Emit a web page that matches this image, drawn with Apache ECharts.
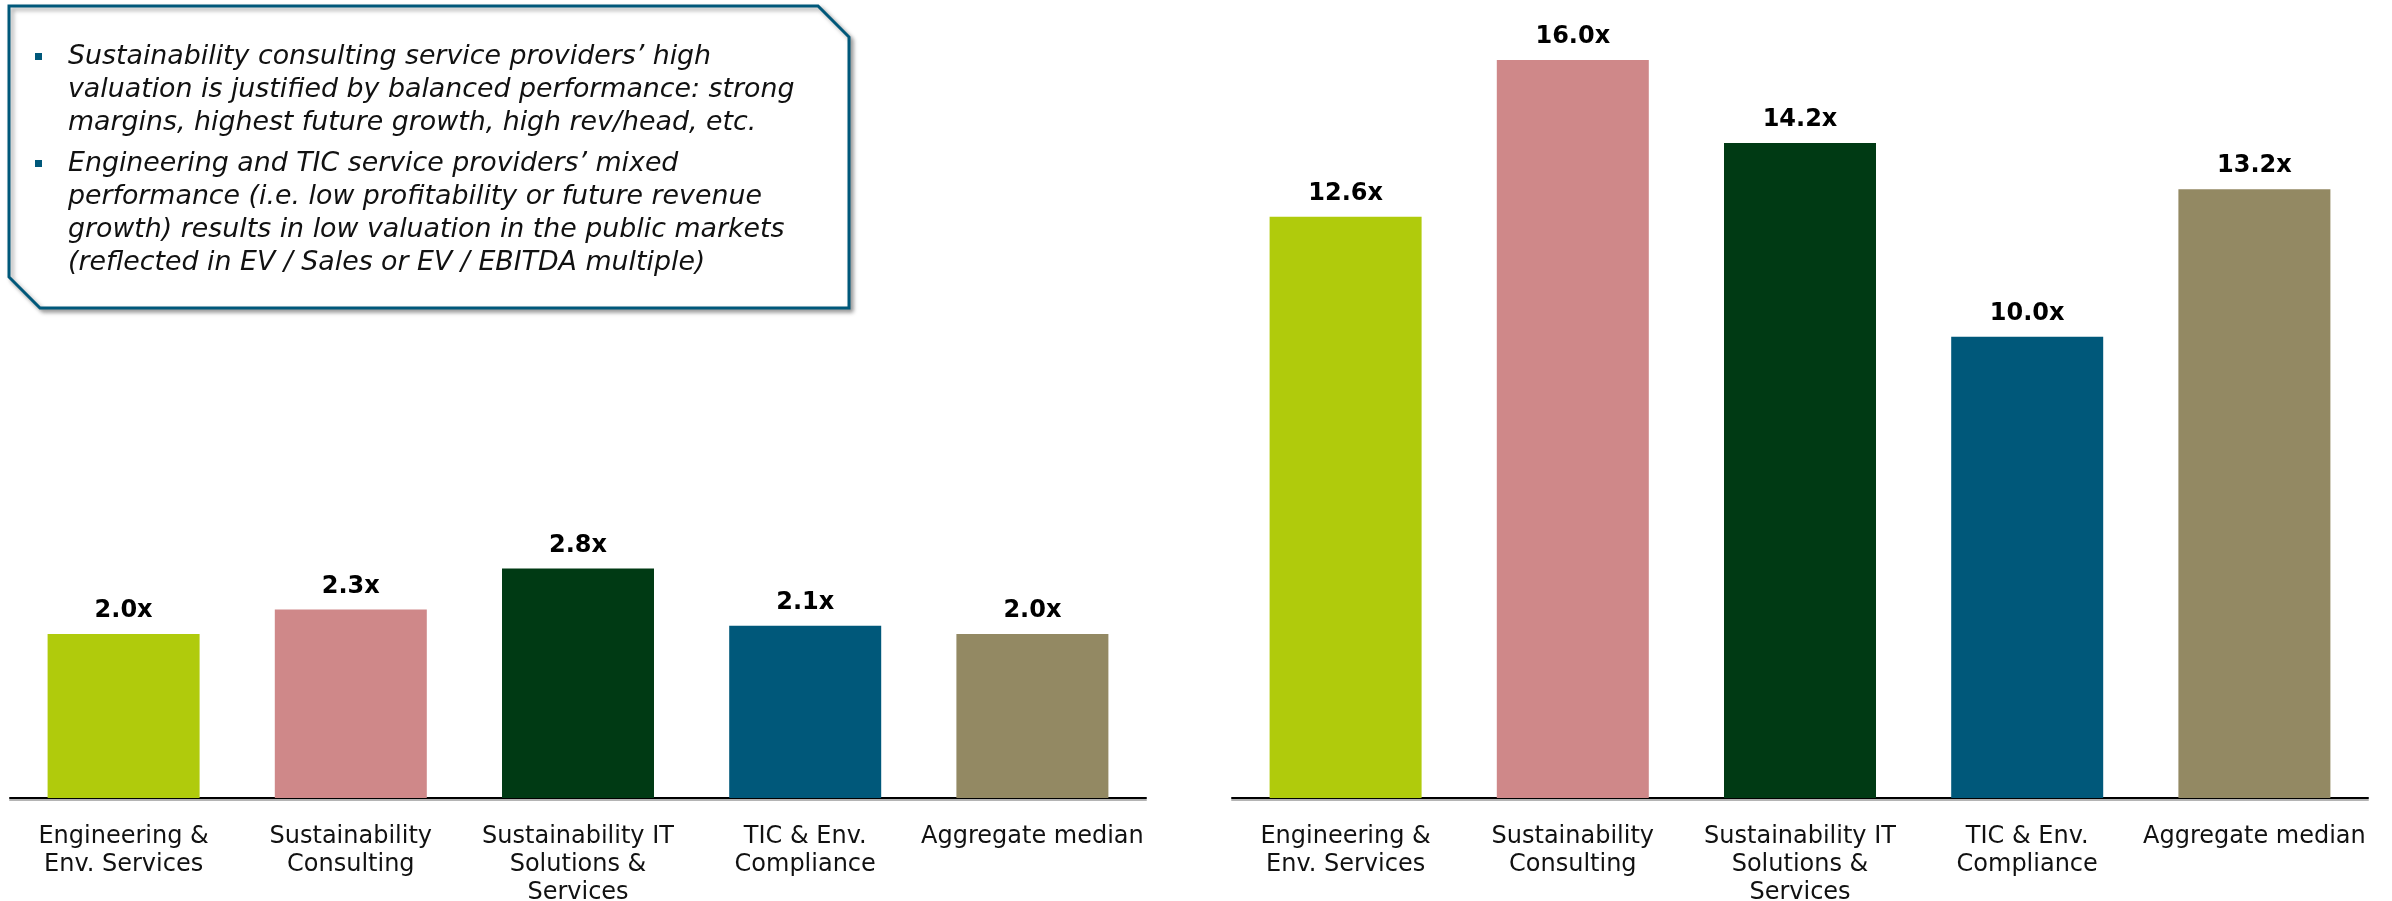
<!DOCTYPE html>
<html>
<head>
<meta charset="utf-8">
<script src="https://cdn.jsdelivr.net/npm/echarts@6/dist/echarts.min.js"></script>
<style>
html,body{margin:0;padding:0;background:#fff;}
#chart{width:2392px;height:901px;}
</style>
</head>
<body>
<div id="chart"></div>
<script>
// ---- data ----
const categories = [
  'Engineering &\nEnv. Services',
  'Sustainability\nConsulting',
  'Sustainability IT\nSolutions &\nServices',
  'TIC & Env.\nCompliance',
  'Aggregate median'
];
const evSalesValues = [2.0, 2.3, 2.8, 2.1, 2.0];
const evEbitdaValues = [12.6, 16.0, 14.2, 10.0, 13.2];
const barColors = ['#b0cb0c', '#cf8889', '#003a14', '#00587a', '#938963'];
const calloutParagraphs = [
  'Sustainability consulting service providers\u2019 high\nvaluation is justified by balanced performance: strong\nmargins, highest future growth, high rev/head, etc.',
  'Engineering and TIC service providers\u2019 mixed\nperformance (i.e. low profitability or future revenue\ngrowth) results in low valuation in the public markets\n(reflected in EV / Sales or EV / EBITDA multiple)'
];

const FONT = '"DejaVu Sans", Verdana, sans-serif';

function toData(vals) {
  return vals.map((v, i) => ({ value: v, itemStyle: { color: barColors[i] } }));
}

function xAxis(gridIndex) {
  return {
    type: 'category', gridIndex: gridIndex, data: categories,
    axisTick: { show: false },
    axisLine: { lineStyle: { color: '#000', width: 2, shadowColor: '#b4b4b4', shadowOffsetY: 2 } },
    axisLabel: { interval: 0, color: '#111', fontFamily: FONT, fontSize: 24, lineHeight: 28, margin: 25 }
  };
}
function yAxis(gridIndex, max) {
  return { type: 'value', gridIndex: gridIndex, min: 0, max: max, show: false, splitLine: { show: false } };
}
function barSeries(idx, vals) {
  return {
    type: 'bar', xAxisIndex: idx, yAxisIndex: idx, data: toData(vals), barWidth: 152,
    label: {
      show: true, position: 'top', distance: 10, color: '#000', fontFamily: FONT,
      fontWeight: 'bold', fontSize: 24, lineHeight: 26,
      formatter: p => p.value.toFixed(1) + 'x'
    }
  };
}

const graphics = [
  {
    type: 'polygon', z: 10,
    shape: { points: [[9, 6], [818, 6], [849, 37], [849, 308], [40, 308], [9, 277]] },
    style: { fill: '#fff', stroke: '#00587a', lineWidth: 3, shadowBlur: 4, shadowOffsetX: 3, shadowOffsetY: 3, shadowColor: 'rgba(0,0,0,0.35)' }
  }
];
const paraTops = [41, 148];
calloutParagraphs.forEach((t, i) => {
  graphics.push({ type: 'rect', z: 11, shape: { x: 35, y: paraTops[i] + 12, width: 7, height: 7 }, style: { fill: '#00587a' } });
  graphics.push({
    type: 'text', z: 11, x: 68, y: paraTops[i],
    style: { text: t, fill: '#111', font: 'italic 26.8px ' + FONT, lineHeight: 33, textVerticalAlign: 'top' }
  });
});

const chart = echarts.init(document.getElementById('chart'));
chart.setOption({
  animation: false,
  backgroundColor: '#fff',
  grid: [
    { left: 10, width: 1136, top: 552, height: 246, outerBoundsMode: 'none', containLabel: false },
    { left: 1232, width: 1136, top: 60, height: 738, outerBoundsMode: 'none', containLabel: false }
  ],
  xAxis: [xAxis(0), xAxis(1)],
  yAxis: [yAxis(0, 3), yAxis(1, 16)],
  series: [barSeries(0, evSalesValues), barSeries(1, evEbitdaValues)],
  graphic: graphics
});
</script>
</body>
</html>
